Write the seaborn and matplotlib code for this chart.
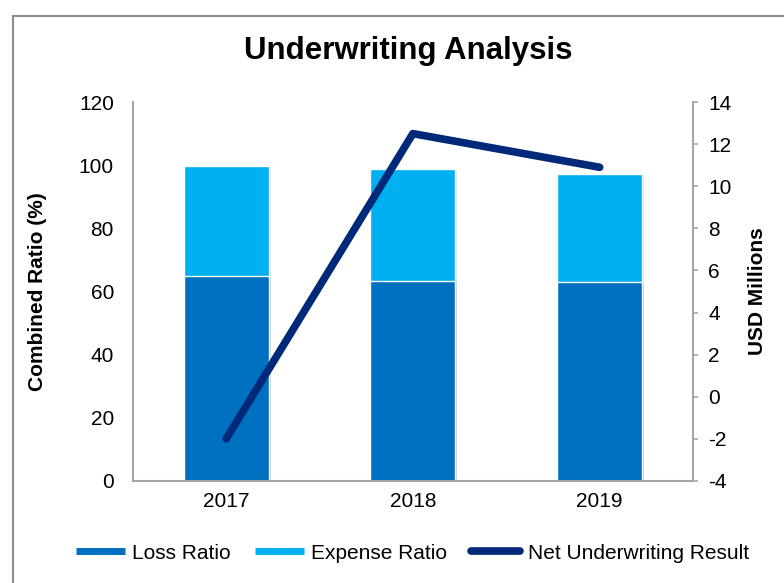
import matplotlib
matplotlib.use("Agg")
import matplotlib.pyplot as plt
import matplotlib.patheffects as pe
from matplotlib.lines import Line2D
from matplotlib.patches import Rectangle
import seaborn as sns
import pandas as pd

# Underwriting figures by year
years = ["2017", "2018", "2019"]
loss_ratio = [65.0, 63.4, 63.0]
expense_ratio = [34.8, 35.4, 34.2]
net_result = [-2.0, 12.5, 10.9]

loss_color = "#0070C0"
expense_color = "#00B0F0"
line_color = "#00297A"
spine_color = "#A6A6A6"

sns.set_theme(style="white")
plt.rcParams["font.family"] = ["Liberation Sans", "DejaVu Sans"]
plt.rcParams["axes.unicode_minus"] = False
plt.rcParams["text.color"] = "black"
plt.rcParams["axes.labelcolor"] = "black"

df = pd.DataFrame({
    "year": years,
    "loss": loss_ratio,
    "expense": expense_ratio,
    "net": net_result,
})
df["combined"] = df["loss"] + df["expense"]
df["pos"] = range(len(df))

fig = plt.figure(figsize=(7.84, 5.83), dpi=100)
ax = fig.add_axes([0.1693, 0.175, 0.7147, 0.650])

shadow = [pe.SimplePatchShadow(offset=(1.5, -1.0), shadow_rgbFace="#808080", alpha=0.25), pe.Normal()]

# Stacked bars: combined ratio in the expense colour, loss ratio over it
sns.barplot(data=df, x="year", y="combined", color=expense_color, saturation=1,
            width=0.455, edgecolor="white", linewidth=1.0, ax=ax)
sns.barplot(data=df, x="year", y="loss", color=loss_color, saturation=1,
            width=0.455, edgecolor="white", linewidth=1.0, ax=ax)
for p in ax.patches:
    p.set_path_effects(shadow)

ax.set_ylim(0, 120)
ax.set_yticks(range(0, 121, 20))
ax.set_xlim(-0.5, 2.5)
ax.set_xlabel("")
ax.set_ylabel("Combined Ratio (%)", fontsize=15, fontweight="bold")
ax.yaxis.set_label_coords(-0.153, 0.5)
ax.tick_params(axis="x", length=0, labelsize=15, colors="black", pad=8)
ax.tick_params(axis="y", length=0, labelsize=15, colors="black", pad=13.5)
for side in ["left", "bottom"]:
    ax.spines[side].set_color(spine_color)
    ax.spines[side].set_linewidth(1.5)
ax.spines["top"].set_visible(False)
ax.spines["right"].set_visible(False)

# Net underwriting result on the secondary axis
ax2 = ax.twinx()
sns.lineplot(data=df, x="pos", y="net", color=line_color, linewidth=5.5,
             solid_capstyle="round", solid_joinstyle="round", ax=ax2)
ax2.set_ylim(-4, 14)
ax2.set_yticks(range(-4, 15, 2))
ax2.set_xlim(-0.5, 2.5)
ax2.set_ylabel("USD Millions", fontsize=15, fontweight="bold")
ax2.yaxis.set_label_coords(1.098, 0.5)
ax2.tick_params(axis="y", length=3.6, width=1.2, color=spine_color,
                labelsize=15, labelcolor="black", pad=7.2, direction="out")
ax2.spines["right"].set_color(spine_color)
ax2.spines["right"].set_linewidth(1.5)
for side in ["left", "bottom", "top"]:
    ax2.spines[side].set_visible(False)

fig.text(0.521, 0.913, "Underwriting Analysis", ha="center", va="center",
         fontsize=22.5, fontweight="bold", color="black")

handles = [
    Line2D([], [], color=loss_color, linewidth=5, solid_capstyle="butt"),
    Line2D([], [], color=expense_color, linewidth=5, solid_capstyle="butt"),
    Line2D([], [], color=line_color, linewidth=5.5, solid_capstyle="round"),
]
fig.legend(handles, ["Loss Ratio", "Expense Ratio", "Net Underwriting Result"],
           loc="center", bbox_to_anchor=(0.526, 0.051), ncol=3, frameon=False,
           fontsize=15, handlelength=2.35, handletextpad=0.37, columnspacing=1.15)

# Chart frame
fig.patches.append(Rectangle((13 / 784, -0.05), 1.0, 1.05 - 16 / 583,
                             transform=fig.transFigure, fill=False,
                             edgecolor="#8C8C8C", linewidth=1.5))

fig.savefig("out.png", dpi=100)
